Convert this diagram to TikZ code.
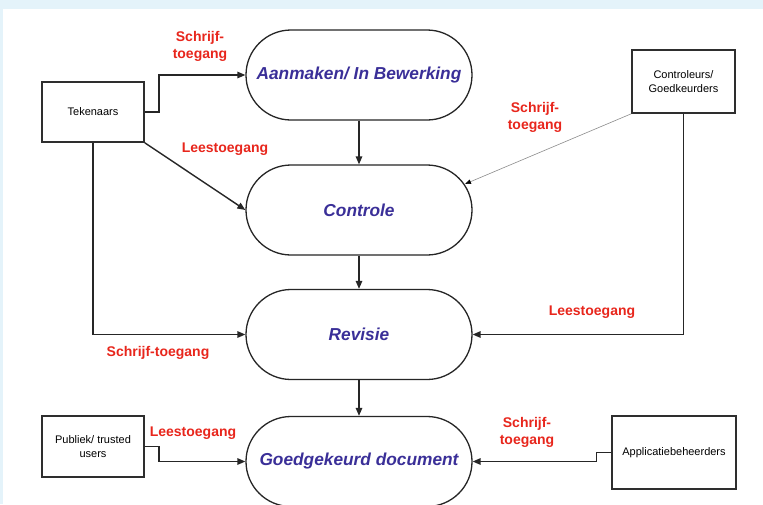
\documentclass[tikz,border=0pt]{standalone}
\usepackage{fontspec}
\setmainfont{Liberation Sans}
\usetikzlibrary{arrows.meta,shapes.misc}
\definecolor{lblred}{HTML}{E8261C}
\definecolor{procblue}{HTML}{3A2F98}
\definecolor{bandblue}{HTML}{E4F3FA}
\definecolor{boxline}{HTML}{2E2E2E}
\tikzset{
  actor/.style={draw=boxline, line width=1.6pt, fill=white, inner sep=2pt, align=center,
    font=\fontsize{11}{13.5}\selectfont},
  proc/.style={rounded rectangle, draw=black!85, line width=1.3pt, fill=white,
    minimum width=226pt, minimum height=90pt, inner sep=0pt,
    font=\fontsize{17.3}{20}\selectfont\bfseries\itshape, text=procblue},
  lbl/.style={text=lblred, font=\fontsize{14}{17}\selectfont\bfseries, align=center, inner sep=0pt},
  conn/.style={draw=black!85, line width=1.4pt, -{Triangle[length=8pt,width=6.5pt]}},
  thinconn/.style={draw=black!45, line width=0.6pt, -{Triangle[length=6pt,width=4.5pt,fill=black,color=black]}}
}
\begin{document}
\begin{tikzpicture}[x=1pt,y=-1pt]
\useasboundingbox (0,0) rectangle (763,504);
\fill[bandblue] (0,0) rectangle (763,504);
\fill[white] (3,9) rectangle (763,504);
\begin{scope}
\clip (3,9) rectangle (763,504);
% processes
\node[proc] (aan) at (359,75) {Aanmaken/ In Bewerking};
\node[proc] (ctl) at (359,210) {Controle};
\node[proc] (rev) at (359,334.5) {Revisie};
\node[proc] (goe) at (359,461.5) {Goedgekeurd document};
% actors
\node[actor, minimum width=102pt, minimum height=60pt] (tek) at (93,112) {Tekenaars};
\node[actor, minimum width=103pt, minimum height=63pt] (con) at (683.5,81.5) {Controleurs/\\Goedkeurders};
\node[actor, minimum width=102pt, minimum height=61pt] (pub) at (93,446.5) {Publiek/ trusted\\users};
\node[actor, minimum width=124pt, minimum height=73pt] (app) at (674,452.5) {Applicatiebeheerders};
\coordinate (ctlhit) at (465,184);
% flow
\draw[conn] (aan.south) -- (ctl.north);
\draw[conn] (ctl.south) -- (rev.north);
\draw[conn] (rev.south) -- (goe.north);
% access
\draw[conn] (tek.east) -- ++(14,0) |- (aan.west);
\draw[conn] (tek.south east) -- (ctl.west);
\draw[conn] (tek.south) |- (rev.west);
\draw[thinconn] (con.south west) -- (ctlhit);
\draw[conn] (con.south) |- (rev.east);
\draw[conn] (pub.east) -- ++(14,0) |- (goe.west);
\draw[conn] (app.west) -- ++(-15,0) |- (goe.east);
% labels
\node[lbl] (l1) at (200,46) {Schrijf-\\toegang};
\node[lbl] (l2) at (225,149) {Leestoegang};
\node[lbl] (l3) at (535,117) {Schrijf-\\toegang};
\node[lbl] (l4) at (592,312) {Leestoegang};
\node[lbl] (l5) at (158,353) {Schrijf-toegang};
\node[lbl] (l6) at (193,433) {Leestoegang};
\node[lbl] (l7) at (527,432) {Schrijf-\\toegang};
\end{scope}
\end{tikzpicture}
\end{document}
